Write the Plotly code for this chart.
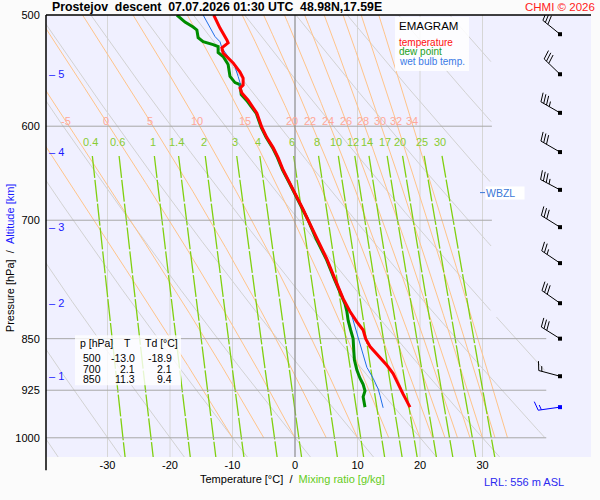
import numpy as np
import plotly.graph_objects as go

# ----------------------------- data -----------------------------
T_P = [500, 510.8, 520.9, 523.4, 527.7, 532.1, 540.9, 549.0, 554.5, 560.9, 563.7, 568.3,
       574.9, 587.4, 601.2, 611.3, 621.4, 631.7, 644.6, 658.5, 673.5, 687.7, 700, 722,
       746, 771, 796, 813, 827, 838, 850, 861, 876, 888, 900, 916, 931, 951]
T_C = [-13.0, -12.0, -10.9, -10.7, -11.7, -11.5, -9.9, -8.8, -8.3, -8.3, -8.8, -8.5,
       -7.5, -6.1, -5.3, -4.5, -3.5, -2.7, -1.9, -0.8, 0.3, 1.3, 2.1, 3.5,
       5.1, 6.4, 7.7, 8.8, 9.9, 10.9, 11.3, 12.0, 13.6, 14.7, 15.7, 16.5, 17.3, 18.4]

TD_P = [500, 505.8, 509.9, 512.4, 519.0, 522.4, 524.9, 526.6, 531.7, 535.2,
        542.2, 553.0, 558.6, 560.4, 569.7, 576.2, 587.4, 601.2, 611.3, 621.4,
        631.7, 644.6, 658.5, 673.5, 687.7, 700, 722, 746, 771, 796,
        803, 813, 825, 838, 850, 866, 880, 895, 907, 916, 926, 935, 951]
TD_C = [-18.9, -17.6, -16.3, -15.7, -15.5, -14.7, -13.1, -12.3, -12.3, -11.5,
        -10.7, -10.4, -9.6, -8.8, -8.6, -7.6, -6.2, -5.4, -4.6, -3.6,
        -2.8, -2.0, -0.9, 0.2, 1.2, 2.1, 3.4, 5.0, 6.3, 7.6,
        8.0, 8.3, 8.5, 8.9, 9.3, 9.4, 9.5, 9.9, 10.4, 10.9, 11.2, 10.9, 11.2]

TW_P = [500, 505.8, 512.4, 518.0, 522.4, 527.7, 537.6, 544.4, 553.0, 558.6,
        563.7, 568.3, 574.9, 587.4, 601.2, 611.3, 621.4, 631.7, 644.6, 658.5,
        673.5, 687.7, 700, 722, 746, 771, 796, 808, 819, 842,
        866, 891, 907, 923, 933, 952]
TW_C = [-14.7, -14.1, -13.3, -12.8, -12.0, -11.7, -10.4, -9.6, -9.1, -8.8,
        -8.8, -8.5, -7.5, -6.1, -5.3, -4.5, -3.5, -2.7, -1.9, -0.8,
        0.3, 1.3, 2.1, 3.5, 5.1, 6.4, 7.7, 8.4, 9.1, 9.9,
        10.7, 11.5, 12.5, 13.3, 13.6, 14.1]

TABLE_P = [500, 700, 850]
TABLE_T = ["-13.0", "2.1", "11.3"]
TABLE_TD = ["-18.9", "2.1", "9.4"]

WIND_P = [516, 551, 587, 626, 666, 708, 751, 802, 850, 904, 951]
WIND_DIR = [309, 314, 300, 300, 298, 302, 304, 305, 302, 285, 262]
WIND_KT = [30, 30, 35, 30, 35, 30, 25, 30, 30, 15, 15]

ALT_KM = [1, 2, 3, 4, 5]
ALT_P = [904, 802, 708, 626, 551]
WBZL_P = 669

P_TICKS = [500, 600, 700, 850, 925, 1000]
T_TICKS = [-30, -20, -10, 0, 10, 20, 30]
ISOTHERMS = [-30, -20, -10, 10, 20, 30]
ISOBARS = [600, 700, 850, 925, 1000]
THETA_W = [-10, -5, 0, 5, 10, 15, 20, 22, 24, 26, 28, 30, 32, 34]
THETA_W_LABELLED = [-5, 0, 5, 10, 15, 20, 22, 24, 26, 28, 30, 32, 34]
THETA = list(range(-40, 101, 10))
MIXR = [0.4, 0.6, 1, 1.4, 2, 3, 4, 6, 8, 10, 12, 14, 17, 20, 25, 30]
MIXR_LABELS = ["0.4", "0.6", "1", "1.4", "2", "3", "4", "6", "8", "10", "12", "14",
               "17", "20", "25", "30"]

TITLE = "Prostejov\u00a0 descent\u00a0 07.07.2026 01:30 UTC\u00a0 48.98N,17.59E"

# ----------------------------- layout geometry -----------------------------
W, H = 600, 500
ML, MR, MT, MB = 46, 9, 15, 43.3
PW, PH = W - ML - MR, H - MT - MB
X_RANGE = [-39.84, 47.36]
P_TOP, P_BOT = 500.0, 1032.0
PX_PER_C = PW / (X_RANGE[1] - X_RANGE[0])
PX_PER_LN = PH / np.log(P_BOT / P_TOP)
FONT = "Liberation Sans, Arial, sans-serif"


def PX(x):
    return (x - ML) / PW


def PY(y):
    return (MT + PH - y) / PH


def px_to_T(x):
    return X_RANGE[0] + (x - ML) / PX_PER_C


def tmax_at(p):
    return 31.5 if p < 820 else 40.2


# ----------------------------- thermodynamics -----------------------------
Rd, CP, LV, EPS = 287.04, 1005.7, 2.501e6, 0.622


def es(tc):
    return 6.112 * np.exp(17.67 * tc / (tc + 243.5))


def dTdp(p, T):
    tc = T - 273.15
    e = es(tc)
    rs = EPS * e / (p - e)
    num = Rd * T + LV * rs
    den = CP + LV ** 2 * rs * EPS / (Rd * T ** 2)
    return num / (den * p)


def moist_adiabat(tw):
    ps = [1000.0]
    ts = [tw + 273.15]
    p, T = 1000.0, tw + 273.15
    dp = -2.0
    while p > P_TOP + 1e-6:
        k1 = dTdp(p, T)
        k2 = dTdp(p + dp / 2, T + dp / 2 * k1)
        k3 = dTdp(p + dp / 2, T + dp / 2 * k2)
        k4 = dTdp(p + dp, T + dp * k3)
        T += dp / 6 * (k1 + 2 * k2 + 2 * k3 + k4)
        p += dp
        ps.append(p)
        ts.append(T)
    return np.array(ps), np.array(ts) - 273.15


def mixr_T(w, p):
    e = w * p / (622.0 + w)
    a = np.log(e / 6.112)
    return 243.5 * a / (17.67 - a)


fig = go.Figure()


def add_lines(xs_list, ps_list, color, width, dash=None):
    X, Y = [], []
    for xs, ps in zip(xs_list, ps_list):
        X += list(xs) + [None]
        Y += list(ps) + [None]
    fig.add_trace(go.Scatter(x=X, y=Y, mode="lines", hoverinfo="skip",
                             line=dict(color=color, width=width, dash=dash),
                             showlegend=False))


pgrid = np.exp(np.linspace(np.log(P_TOP), np.log(P_BOT), 200))

# isotherms
add_lines([[t, t] for t in ISOTHERMS], [[P_TOP, P_BOT]] * len(ISOTHERMS), "#d6d6d6", 1)

# dry adiabats
dry_x, dry_p = [], []
for th in THETA:
    ts = (th + 273.15) * (pgrid / 1000.0) ** 0.2857 - 273.15
    xs = [t if (t <= tmax_at(p) and t >= X_RANGE[0] - 5) else None for t, p in zip(ts, pgrid)]
    dry_x.append(xs)
    dry_p.append(list(pgrid))
add_lines(dry_x, dry_p, "#d2d2d2", 1)

# moist adiabats
moist = {}
mx, mp = [], []
for tw in THETA_W:
    ps, ts = moist_adiabat(tw)
    moist[tw] = (ps, ts)
    mx.append(ts)
    mp.append(ps)
add_lines(mx, mp, "#ffc48a", 1)

# mixing ratio lines
mrp = np.exp(np.linspace(np.log(630), np.log(P_BOT), 60))
add_lines([mixr_T(w, mrp) for w in MIXR], [mrp] * len(MIXR), "#80d010", 1.3, "22px,2px")

# isobars
add_lines([[X_RANGE[0], tmax_at(p)] for p in ISOBARS], [[p, p] for p in ISOBARS], "#a8a8a8", 1)
# zero isotherm
add_lines([[0, 0]], [[P_TOP, P_BOT]], "#8c8c8c", 1.2)

# profiles
fig.add_trace(go.Scatter(x=TD_C, y=TD_P, mode="lines", line=dict(color="#008c00", width=3),
                         hoverinfo="skip", showlegend=False))
fig.add_trace(go.Scatter(x=TW_C, y=TW_P, mode="lines", line=dict(color="#1f6fe8", width=1),
                         hoverinfo="skip", showlegend=False))
fig.add_trace(go.Scatter(x=T_C, y=T_P, mode="lines", line=dict(color="#ff0000", width=3),
                         hoverinfo="skip", showlegend=False))

# wind barbs
BARB_X_PX = 560
SHAFT, FL, HL, SP, TILT = 22.0, 9.0, 5.0, 3.2, 0.3


def to_data(x0px, p0, dx, dy):
    return px_to_T(x0px + dx), p0 * np.exp(dy / PX_PER_LN)


for i, (p0, d, spd) in enumerate(zip(WIND_P, WIND_DIR, WIND_KT)):
    col = "#0000ff" if i == len(WIND_P) - 1 else "#000000"
    r = np.radians(d)
    sx, sy = np.sin(r), -np.cos(r)
    fx, fy = -sy + TILT * sx, sx + TILT * sy
    segs = [((0, 0), (sx * SHAFT, sy * SHAFT))]
    n10 = spd // 10
    n5 = (spd % 10) // 5
    pos = SHAFT
    for k in range(n10):
        bx, by = sx * pos, sy * pos
        segs.append(((bx, by), (bx + fx * FL, by + fy * FL)))
        pos -= SP
    if n5:
        if n10 == 0:
            pos -= SP
        bx, by = sx * pos, sy * pos
        segs.append(((bx, by), (bx + fx * HL, by + fy * HL)))
    X, Y = [], []
    for (a, b) in segs:
        xa, pa = to_data(BARB_X_PX, p0, *a)
        xb, pb = to_data(BARB_X_PX, p0, *b)
        X += [xa, xb, None]
        Y += [pa, pb, None]
    fig.add_trace(go.Scatter(x=X, y=Y, mode="lines", line=dict(color=col, width=1),
                             hoverinfo="skip", showlegend=False))
    fig.add_trace(go.Scatter(x=[px_to_T(BARB_X_PX)], y=[p0], mode="markers",
                             marker=dict(color=col, size=4, symbol="square"),
                             hoverinfo="skip", showlegend=False, cliponaxis=False))

ann = []


def A(text, x, y, size=11, color="#000000", xanchor="center", yanchor="middle",
      xref="paper", yref="paper", **kw):
    ann.append(dict(text=text, x=x, y=y, xref=xref, yref=yref, showarrow=False,
                    xanchor=xanchor, yanchor=yanchor,
                    font=dict(family=FONT, size=size, color=color), **kw))


# moist adiabat labels at ~595 hPa
P_LAB_W = 595
for tw in THETA_W_LABELLED:
    ps, ts = moist[tw]
    t = float(np.interp(np.log(P_LAB_W), np.log(ps[::-1]), ts[::-1]))
    A(str(tw), t, np.log10(P_LAB_W), size=11, color="#ffa898", xref="x", yref="y")

# mixing ratio labels at ~616 hPa
P_LAB_M = 616
for w, lab in zip(MIXR, MIXR_LABELS):
    A(lab, float(mixr_T(w, P_LAB_M)), np.log10(P_LAB_M), size=11, color="#88cc33",
      xref="x", yref="y")

# altitude ticks
for km, p in zip(ALT_KM, ALT_P):
    A("\u2013\u00a0" + str(km), px_to_T(47), np.log10(p), size=11, color="#1a1aff",
      xanchor="left", xref="x", yref="y")

# WBZL
fig.add_trace(go.Scatter(x=[px_to_T(480), px_to_T(485)], y=[WBZL_P, WBZL_P], mode="lines",
                         line=dict(color="#3a78d8", width=1), hoverinfo="skip", showlegend=False))
A("WBZL\u00a0\u00a0\u00a0", px_to_T(485), np.log10(WBZL_P), size=10.5, color="#3a78d8",
  xanchor="left", xref="x", yref="y", bgcolor="#ffffff", borderpad=0)

# table / legend boxes
shapes = []
shapes.append(dict(type="rect", xref="paper", yref="paper", x0=PX(75), x1=PX(181),
                   y0=PY(385), y1=PY(335), fillcolor="rgba(255,255,255,0.8)", line=dict(width=0),
                   layer="above"))
shapes.append(dict(type="rect", xref="paper", yref="paper", x0=PX(395), x1=PX(469),
                   y0=PY(71), y1=PY(17), fillcolor="rgba(255,255,255,0.85)", line=dict(width=0),
                   layer="above"))
A("p [hPa]", PX(78), PY(343), size=10.5, xanchor="left")
A("T", PX(127), PY(343), size=10.5)
A("Td [°C]", PX(143), PY(343), size=10.5, xanchor="left")
for i, (p, t, td) in enumerate(zip(TABLE_P, TABLE_T, TABLE_TD)):
    yy = PY(358 + 10.3 * i)
    A(str(p), PX(103), yy, size=10.5, xanchor="right")
    A(t, PX(137), yy, size=10.5, xanchor="right")
    A(td, PX(174), yy, size=10.5, xanchor="right")

A("EMAGRAM", PX(397), PY(26), size=11.5, xanchor="left")
A("temperature", PX(397), PY(42), size=10, color="#ff1010", xanchor="left")
A("dew point", PX(397), PY(51.7), size=10, color="#22a022", xanchor="left")
A("wet bulb temp.", PX(397), PY(61.7), size=10, color="#3a7ae6", xanchor="left")

# titles
A("<b>" + TITLE + "</b>", PX(50), PY(7), size=12.3, xanchor="left")
A("CHMI © 2026", PX(597), PY(7), size=11.5, color="#ff2020", xanchor="right")
A("Pressure [hPa]\u00a0\u00a0/\u00a0\u00a0<span style='color:#1a1aff'>Altitude [km]</span>",
  PX(10), PY(258), size=11, textangle=-90)
A("Temperature [°C]\u00a0\u00a0/\u00a0\u00a0<span style='color:#66cc22'>Mixing ratio [g/kg]</span>",
  PX(292), PY(479), size=11)
A("LRL: 556 m ASL", PX(482), PY(482), size=11, color="#2a2af0", xanchor="left")

# frame lines
shapes.append(dict(type="line", xref="paper", yref="paper", x0=0, x1=1, y0=1, y1=1,
                   line=dict(color="#000000", width=1.5), layer="above"))
shapes.append(dict(type="line", xref="paper", yref="paper", x0=0, x1=0, y0=PY(470), y1=1,
                   line=dict(color="#000000", width=1.5), layer="above"))

fig.update_layout(
    width=W, height=H,
    margin=dict(l=ML, r=MR, t=MT, b=MB, pad=0),
    paper_bgcolor="#fbfbfb", plot_bgcolor="#f0f0ff",
    showlegend=False,
    annotations=ann, shapes=shapes,
    xaxis=dict(range=X_RANGE, showgrid=False, zeroline=False, showline=False,
               tickvals=T_TICKS, ticktext=[str(t) for t in T_TICKS], ticks="",
               tickfont=dict(family=FONT, size=11, color="#000000"), fixedrange=True),
    yaxis=dict(type="log", range=[np.log10(P_BOT), np.log10(P_TOP)], showgrid=False,
               zeroline=False, showline=False, tickvals=P_TICKS,
               ticktext=[str(p) for p in P_TICKS], ticks="outside", ticklen=3,
               tickcolor="rgba(0,0,0,0)",
               tickfont=dict(family=FONT, size=11, color="#000000"), fixedrange=True),
)

fig.write_html("out.html", config={"displayModeBar": False},
               post_script="document.body.style.margin='0';document.body.style.background='#fbfbfb';")
